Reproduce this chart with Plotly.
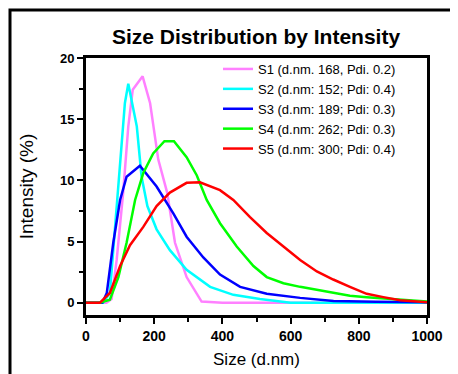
import plotly.graph_objects as go

# ---- data ----
series_names = [
    "S1 (d.nm. 168, Pdi. 0.2)",
    "S2 (d.nm: 152; Pdi: 0.4)",
    "S3 (d.nm: 189; Pdi: 0.3)",
    "S4 (d.nm: 262; Pdi: 0.3)",
    "S5 (d.nm: 300; Pdi: 0.4)",
]
series_colors = ["#FF80FF", "#00FFFF", "#0000FF", "#00FF00", "#FF0000"]

s1_x = [0, 60, 75, 90, 109, 124, 137, 166, 188, 212, 238, 261, 295, 339, 400, 600, 1000]
s1_y = [0, 0, 0.3, 3.5, 9.0, 14.4, 17.4, 18.5, 16.3, 11.7, 9.0, 4.9, 2.1, 0.1, 0, 0, 0]

s2_x = [0, 50, 70, 85, 100, 114, 124, 149, 163, 180, 207, 246, 295, 364, 432, 510, 600, 1000]
s2_y = [0, 0, 0.8, 6.2, 11.7, 16.3, 17.9, 14.4, 10.3, 7.9, 6.0, 4.3, 2.7, 1.3, 0.65, 0.3, 0.0, 0]

s3_x = [0, 48, 61, 80, 100, 119, 158, 207, 256, 295, 344, 393, 452, 530, 628, 726, 850, 1000]
s3_y = [0, 0, 0.8, 4.9, 8.4, 10.3, 11.2, 9.5, 7.3, 5.4, 3.7, 2.3, 1.3, 0.73, 0.4, 0.15, 0.08, 0.05]

s4_x = [0, 40, 70, 95, 119, 144, 168, 197, 230, 258, 295, 325, 354, 393, 442, 491, 530,
        579, 628, 677, 725, 774, 823, 921, 1000]
s4_y = [0, 0, 0.25, 2.1, 4.9, 8.4, 10.6, 12.2, 13.2, 13.2, 11.9, 10.4, 8.4, 6.5, 4.6, 3.0, 2.1,
        1.6, 1.3, 1.06, 0.8, 0.57, 0.46, 0.24, 0.1]

s5_x = [0, 41, 70, 100, 129, 168, 207, 246, 295, 334, 393, 432, 481, 530, 579, 628, 677,
        725, 774, 823, 872, 921, 1000]
s5_y = [0, 0, 0.8, 3.0, 4.7, 6.2, 7.9, 9.0, 9.8, 9.85, 9.2, 8.4, 7.0, 5.7, 4.6, 3.5, 2.56,
        1.9, 1.3, 0.73, 0.46, 0.2, 0.05]

x_ticks = [0, 200, 400, 600, 800, 1000]
y_ticks = [0, 5, 10, 15, 20]

all_x = [s1_x, s2_x, s3_x, s4_x, s5_x]
all_y = [s1_y, s2_y, s3_y, s4_y, s5_y]

fig = go.Figure()
for name, color, xs, ys in zip(series_names, series_colors, all_x, all_y):
    fig.add_trace(go.Scatter(x=xs, y=ys, mode="lines", name=name,
                             line=dict(color=color, width=2.5)))

# the page body adds an 8 px offset; figure coordinates below are page - 8
OFF = 8
W, H = 450, 366
L, R, T, B = 78, 31, 50, 59
pw, ph = W - L - R, H - T - B

def px_to_paper_x(page_px):
    return (page_px - OFF - L) / pw

def px_to_paper_y(page_py):
    return (H - B - (page_py - OFF)) / ph

font_family = "Liberation Sans, Arial, sans-serif"

fig.update_layout(
    width=W, height=H,
    margin=dict(l=L, r=R, t=T, b=B),
    paper_bgcolor="white", plot_bgcolor="white",
    font=dict(family=font_family, color="black"),
    title=dict(text="<b>Size Distribution by Intensity</b>",
               x=px_to_paper_x(256), xref="paper", xanchor="center",
               y=1 - (37 - OFF) / H, yanchor="middle",
               font=dict(size=21, family=font_family, color="black")),
    showlegend=True,
    legend=dict(x=px_to_paper_x(218), y=px_to_paper_y(54), xanchor="left", yanchor="top",
                bgcolor="rgba(0,0,0,0)", borderwidth=0,
                font=dict(size=13, family=font_family, color="black"),
                tracegroupgap=0),
    xaxis=dict(range=[0, 1000], tickvals=x_ticks, showgrid=False, zeroline=False,
               automargin=False,
               showline=True, linecolor="black", linewidth=3, mirror=True,
               ticks="outside", ticklen=6, tickwidth=2, tickcolor="black",
               minor=dict(dtick=100, ticks="outside", ticklen=4, tickwidth=2, tickcolor="black"),
               tickfont=dict(size=14, family=font_family, weight="bold"),
               title=dict(text="Size (d.nm)", font=dict(size=17, family=font_family), standoff=11)),
    yaxis=dict(range=[-1, 20], tickvals=y_ticks, showgrid=False, zeroline=False,
               automargin=False,
               showline=True, linecolor="black", linewidth=3, mirror=True,
               ticks="outside", ticklen=6, tickwidth=2, tickcolor="black",
               minor=dict(dtick=2.5, ticks="outside", ticklen=4, tickwidth=2, tickcolor="black"),
               tickfont=dict(size=13, family=font_family, weight="bold"),
               title=dict(text="Intensity (%)", font=dict(size=19, family=font_family), standoff=22)),
)

# outer frame (top and left edges visible, others beyond the page)
fig.add_shape(type="rect", xref="paper", yref="paper",
              x0=px_to_paper_x(10), y0=px_to_paper_y(H + 40),
              x1=px_to_paper_x(W + 40), y1=px_to_paper_y(10),
              line=dict(color="black", width=3), layer="above")

fig.write_html("out.html")
